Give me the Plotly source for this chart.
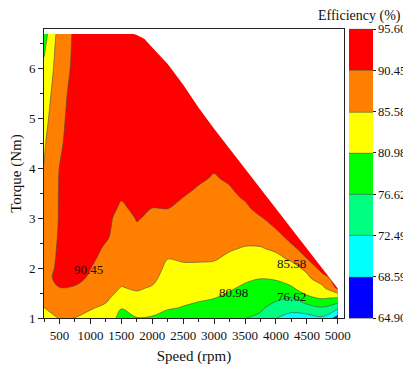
import numpy as np
import plotly.graph_objects as go

# ---------------- data ----------------
SPEED = [250, 500, 750, 1000, 1250, 1500, 1750, 2000, 2250, 2500,
         2750, 3000, 3250, 3500, 3750, 4000, 4250, 4500, 4750, 5000]   # rpm
TORQUE = [1.0, 1.2, 1.4, 1.6, 1.8, 2.0, 2.2, 2.4, 2.6, 2.8, 3.0,
          3.2, 3.4, 3.6, 3.8, 4.0, 4.5, 5.0, 5.5, 6.0, 6.4, 6.7]        # Nm

# efficiency (%) at each torque row, one list per speed column (None = outside the torque envelope)
E0250 = [83.74, 85.49, 87.04, 87.53, 87.53, 87.53, 87.53, 87.53, 87.53, 87.53, 87.53,
         87.53, 87.28, 86.80, 86.16, 85.68, 85.12, 84.43, 83.51, 81.90, 80.37, 79.11]
E0500 = [85.82, 87.04, 88.50, 90.21, 93.03, 92.00, 91.48, 91.22, 90.97, 90.81, 90.71,
         90.71, 90.71, 90.71, 90.71, 90.55, 89.72, 88.55, 88.26, 88.06, 87.97, 87.63]
E0750 = [85.53, 86.80, 88.50, 89.96, 92.00, 92.51, 93.03, 93.03, 93.03, 93.03, 93.03,
         93.03, 93.03, 93.03, 93.03, 93.03, 93.03, 93.85, 92.77, 91.58, 91.27, 91.20]
E1000 = [84.20, 85.97, 87.04, 88.02, 89.72, 90.55, 91.48, 92.51, 93.03, 93.03, 93.03,
         93.03, 93.03, 93.03, 93.03, 93.03, 93.03, 93.03, 93.03, 93.03, 93.03, 93.03]
E1250 = [82.82, 84.66, 86.55, 87.53, 88.02, 88.50, 88.99, 89.72, 90.97, 91.48, 92.00,
         92.51, 93.03, 93.03, 93.03, 93.03, 93.03, 93.03, 93.03, 93.03, 93.03, 93.03]
E1500 = [80.11, 81.07, 83.28, 85.35, 86.80, 87.53, 87.77, 88.02, 88.26, 88.50, 88.50,
         89.72, 90.71, 93.03, 93.03, 93.03, 93.03, 93.03, 93.03, 93.03, 93.03, 93.03]
E1750 = [80.89, 82.36, 84.43, 86.07, 87.04, 87.77, 88.26, 88.75, 89.23, 89.96, 90.71,
         91.48, 92.51, 93.03, 93.03, 93.03, 93.03, 93.03, 93.03, 93.03, 93.03, None]
E2000 = [80.54, 82.82, 84.20, 85.21, 86.55, 87.28, 87.77, 88.26, 88.75, 89.23, 89.82,
         90.40, 91.48, 92.51, 93.03, 93.03, 93.03, 93.03, 93.03, 93.03, 93.03, None]
E2250 = [78.80, 81.44, 82.36, 83.28, 83.97, 84.75, 85.68, 86.80, 87.77, 88.75, 89.57,
         90.50, 91.48, 92.51, 93.03, 93.03, 93.03, 93.03, 93.03, 93.03, None, None]
E2500 = [77.93, 80.72, 82.13, 83.05, 83.97, 84.89, 86.07, 87.04, 87.77, 88.50, 89.09,
         89.72, 90.35, 91.22, 92.25, 93.03, 93.03, 93.03, 93.03, None, None, None]
E2750 = [77.49, 79.89, 81.67, 82.82, 83.74, 84.89, 86.07, 87.04, 87.77, 88.26, 88.75,
         89.23, 89.72, 90.21, 90.97, 92.00, 93.03, 93.03, None, None, None, None]
E3000 = [77.06, 78.80, 81.07, 82.59, 83.51, 84.66, 85.97, 87.04, 87.77, 88.26, 88.65,
         88.99, 89.38, 89.72, 90.16, 90.76, 92.00, None, None, None, None, None]
E3250 = [77.49, 78.80, 80.11, 81.44, 82.59, 83.74, 84.89, 85.97, 87.04, 87.77, 88.50,
         89.09, 89.57, 90.21, 90.97, 91.74, None, None, None, None, None, None]
E3500 = [76.71, 77.71, 78.80, 80.33, 81.67, 82.82, 83.97, 85.35, 86.55, 87.63, 88.60,
         89.72, 90.76, 91.74, 92.51, 93.03, None, None, None, None, None, None]
E3750 = [75.79, 77.27, 78.58, 79.76, 81.07, 82.36, 83.74, 85.35, 86.80, 88.26, 90.11,
         91.74, 92.51, 93.03, None, None, None, None, None, None, None, None]
E4000 = [72.57, 74.97, 77.49, 79.45, 81.44, 83.05, 84.66, 86.31, 88.02, 90.60, 92.00,
         93.03, None, None, None, None, None, None, None, None, None, None]
E4250 = [70.93, 73.94, 76.41, 80.63, 82.36, 84.20, 86.31, 89.23, 92.00, 93.03, None,
         None, None, None, None, None, None, None, None, None, None, None]
E4500 = [71.32, 74.35, 80.33, 82.59, 84.66, 86.55, 90.55, 93.03, None, None, None,
         None, None, None, None, None, None, None, None, None, None, None]
E4750 = [71.91, 76.12, 81.35, 84.43, 88.40, 92.61, None, None, None, None, None,
         None, None, None, None, None, None, None, None, None, None, None]
E5000 = [67.11, 72.90, 80.54, 91.48, None, None, None, None, None, None, None,
         None, None, None, None, None, None, None, None, None, None, None]
COLUMNS = [E0250, E0500, E0750, E1000, E1250, E1500, E1750, E2000, E2250, E2500,
           E2750, E3000, E3250, E3500, E3750, E4000, E4250, E4500, E4750, E5000]

# maximum torque envelope
ENV_SPEED = [250, 1700, 1750, 1875, 2000, 2250, 2500, 2750, 3000, 3250,
             3500, 3750, 4000, 4250, 4500, 4750, 5000]
ENV_TORQUE = [6.7, 6.7, 6.68, 6.6, 6.43, 6.1, 5.68, 5.22, 4.8, 4.4,
              4.0, 3.6, 3.2, 2.8, 2.4, 2.0, 1.59]

LEVELS = [64.90, 68.59, 72.49, 76.62, 80.98, 85.58, 90.45, 95.60]
LEVEL_TEXT = ["64.90", "68.59", "72.49", "76.62", "80.98", "85.58", "90.45", "95.60"]
BAND_COLORS = ["#0000FF", "#00FFFF", "#00FF80", "#00FF00", "#FFFF00", "#FF8000", "#FF0000"]

LABEL_TEXT = ["90.45", "80.98", "85.58", "76.62"]
LABEL_SPEED = [968, 3307, 4249, 4249]
LABEL_TORQUE = [1.98, 1.52, 2.09, 1.44]

X_RANGE = [250, 5100]
Y_RANGE = [1, 6.8]
FONT = "Liberation Serif"

# ---------------- build figure ----------------
nb = len(BAND_COLORS)
eff = np.array([[np.nan if v is None else v for v in col] for col in COLUMNS], dtype=float).T
band = np.interp(eff, LEVELS, np.arange(len(LEVELS)))
# cells outside the envelope are drawn in the top band and then hidden by the white mask
band = np.where(np.isnan(eff), nb - 0.5, band)

colorscale = []
for i, c in enumerate(BAND_COLORS):
    colorscale.append([i / nb, c])
    colorscale.append([(i + 1) / nb, c])

fig = go.Figure()
fig.add_trace(go.Contour(
    x=SPEED, y=TORQUE, z=band.tolist(),
    zmin=0, zmax=nb, autocontour=False,
    contours=dict(start=0, end=nb, size=1, coloring="fill", showlines=True),
    line=dict(color="#4a4a4a", width=0.6),
    colorscale=colorscale,
    hoverinfo="skip",
    colorbar=dict(
        tickvals=list(range(len(LEVELS))), ticktext=LEVEL_TEXT,
        thickness=24, thicknessmode="pixels", len=1, lenmode="fraction",
        x=1.017, xanchor="left", xpad=0, y=0.5, yanchor="middle", ypad=0,
        outlinewidth=0, ticks="outside", ticklen=3, tickwidth=1, tickcolor="#222",
        tickfont=dict(family=FONT, size=12.5, color="#111"),
    ),
))

# mask the region above the torque envelope
fig.add_trace(go.Scatter(
    x=ENV_SPEED + [X_RANGE[1] + 200, X_RANGE[1] + 200, ENV_SPEED[0]],
    y=ENV_TORQUE + [ENV_TORQUE[-1], Y_RANGE[1] + 1, Y_RANGE[1] + 1],
    fill="toself", fillcolor="white", mode="lines", line=dict(width=0, color="white"),
    hoverinfo="skip", showlegend=False,
))

for t, sx, ty in zip(LABEL_TEXT, LABEL_SPEED, LABEL_TORQUE):
    fig.add_annotation(x=sx, y=ty, text=t, showarrow=False,
                       font=dict(family=FONT, size=13, color="#111"))

fig.add_annotation(xref="paper", yref="paper", x=1.053, y=1.045, text="Efficiency (%)",
                   showarrow=False, xanchor="center", yanchor="middle",
                   font=dict(family=FONT, size=14, color="#111"))

axis_common = dict(showline=True, mirror=True, linecolor="#222", linewidth=1,
                   ticks="outside", ticklen=5, tickwidth=1, tickcolor="#222",
                   showgrid=False, zeroline=False, automargin=False,
                   tickfont=dict(family=FONT, size=13, color="#111"))

fig.update_xaxes(range=X_RANGE, dtick=500, tick0=0,
                 minor=dict(ticks="outside", ticklen=3, dtick=250, tick0=0, tickcolor="#222"),
                 title=dict(text="Speed (rpm)", font=dict(family=FONT, size=15, color="#111"), standoff=8),
                 **axis_common)
fig.update_yaxes(range=Y_RANGE, dtick=1, tick0=0,
                 minor=dict(ticks="outside", ticklen=3, dtick=0.5, tick0=0, tickcolor="#222"),
                 title=dict(text="Torque (Nm)", font=dict(family=FONT, size=15, color="#111"), standoff=8),
                 **axis_common)

# the page adds an 8 px body margin, so the figure is 8 px smaller than the window
fig.update_layout(
    width=403, height=361,
    margin=dict(l=36, r=67, t=21, b=51, autoexpand=False),
    paper_bgcolor="white", plot_bgcolor="white",
    font=dict(family=FONT, color="#111"),
    showlegend=False,
)

fig.write_html("out.html")
